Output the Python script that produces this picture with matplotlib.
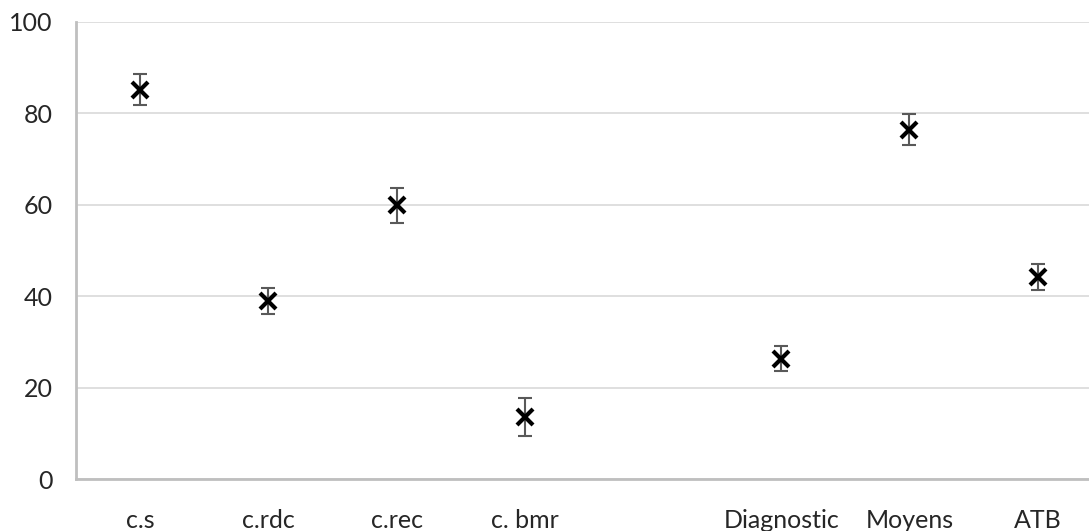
import matplotlib.pyplot as plt
import numpy as np

# categories (the 5th slot is empty in the original chart)
categories = ["c.s", "c.rdc", "c.rec", "c. bmr", "", "Diagnostic", "Moyens", "ATB"]
means = [85.1, 39.0, 59.9, 13.7, np.nan, 26.4, 76.4, 44.2]
errors = [3.4, 2.8, 3.8, 4.2, np.nan, 2.7, 3.3, 2.8]
y_ticks = [0, 20, 40, 60, 80, 100]

text_color = "#262626"

fig = plt.figure(figsize=(10.89, 5.31), dpi=100)
ax = fig.add_axes([0.0698, 0.0970, 0.9418, 0.8625])

x = np.arange(len(categories))
ax.errorbar(x, means, yerr=errors, fmt="none", ecolor="#595959",
            elinewidth=1.5, capsize=5, capthick=1.5, zorder=3)
ax.plot(x, means, linestyle="none", marker="x", color="black",
        markersize=11, markeredgewidth=3, zorder=4)

ax.set_xlim(-0.5, len(categories) - 0.5)
ax.set_ylim(0, 100)
ax.set_yticks(y_ticks)
ax.set_xticks(x)
ax.set_xticklabels(categories)

ax.grid(axis="y", color="#d9d9d9", linewidth=1.2)
ax.set_axisbelow(True)
for side in ["top", "right"]:
    ax.spines[side].set_visible(False)
for side in ["left", "bottom"]:
    ax.spines[side].set_color("#bfbfbf")
    ax.spines[side].set_linewidth(2)

ax.tick_params(axis="both", length=0, labelsize=18, labelcolor=text_color)
ax.tick_params(axis="x", pad=21)
ax.tick_params(axis="y", pad=17)
for lab in ax.get_xticklabels() + ax.get_yticklabels():
    lab.set_family(["Lato", "DejaVu Sans"])

fig.savefig("out.png", dpi=100)
